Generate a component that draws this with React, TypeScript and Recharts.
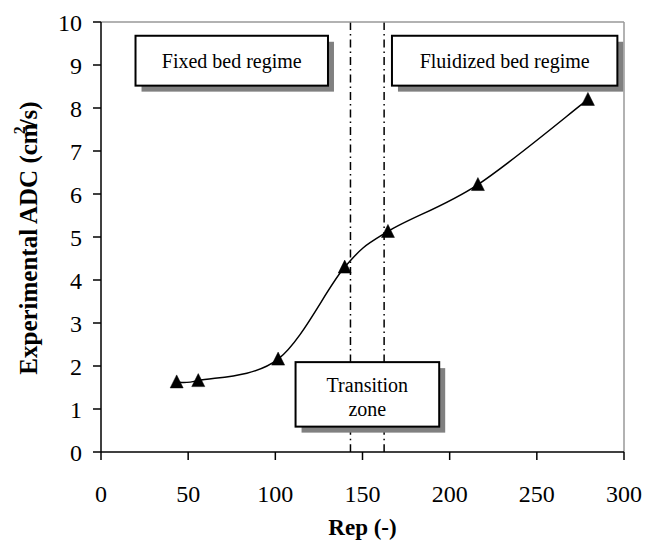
import React from 'react';
import { LineChart, Line, XAxis, YAxis, ReferenceLine, ReferenceArea } from 'recharts';

const rep = [43.4, 55.8, 101.6, 139.8, 164.6, 216.2, 279.3];
const adc = [1.63, 1.66, 2.16, 4.3, 5.13, 6.22, 8.2];
const xTicks = [0, 50, 100, 150, 200, 250, 300];
const yTicks = [0, 1, 2, 3, 4, 5, 6, 7, 8, 9, 10];
const regimeBoundaries = [143.1, 162.4];
const boxLabels = [['Fixed bed regime'], ['Fluidized bed regime'], ['Transition', 'zone']];
const boxX1 = [19.8, 166.9, 111.6];
const boxX2 = [130.2, 296.2, 194.0];
const boxY1 = [8.52, 8.52, 0.59];
const boxY2 = [9.68, 9.68, 2.09];
const TRANSITION = 2;
const Y_MIN = 0;
const Y_MAX = 10;

const data = rep.map((r, i) => ({ rep: r, adc: adc[i] }));

const FONT = '"Liberation Serif", "Times New Roman", Times, serif';

// Excel-like smoothed line (Catmull-Rom style cubic Bezier)
const excelSmooth = (context: any) => {
  let pts: number[][] = [];
  return {
    areaStart() {},
    areaEnd() {},
    lineStart() {
      pts = [];
    },
    point(x: number, y: number) {
      pts.push([+x, +y]);
    },
    lineEnd() {
      if (!pts.length) return;
      context.moveTo(pts[0][0], pts[0][1]);
      for (let i = 0; i < pts.length - 1; i++) {
        const p0 = pts[i - 1] || pts[i];
        const p1 = pts[i];
        const p2 = pts[i + 1];
        const p3 = pts[i + 2] || pts[i + 1];
        context.bezierCurveTo(
          p1[0] + (p2[0] - p0[0]) / 6,
          p1[1] + (p2[1] - p0[1]) / 6,
          p2[0] - (p3[0] - p1[0]) / 6,
          p2[1] - (p3[1] - p1[1]) / 6,
          p2[0],
          p2[1]
        );
      }
    },
  };
};

const Triangle = (props: any) => {
  const { cx, cy, index } = props;
  if (cx == null || cy == null) return null;
  return (
    <path
      key={`tri-${index}`}
      d={`M${cx},${cy - 7} L${cx + 6.5},${cy + 6} L${cx - 6.5},${cy + 6} Z`}
      fill="#000"
      stroke="#000"
      strokeWidth={0.5}
    />
  );
};

// dashed boundary that is interrupted behind the transition-zone box
const dashLine = (props: any) => {
  const { x, y, width, height } = props;
  const lx = x + width / 2;
  const toPx = (v: number) => y + height * (1 - (v - Y_MIN) / (Y_MAX - Y_MIN));
  const gapBottom = toPx(boxY1[TRANSITION]);
  const gapTop = toPx(boxY2[TRANSITION]);
  const common = { stroke: '#000', strokeWidth: 1.5, strokeDasharray: '8 4 1.5 4' };
  return (
    <g>
      <line x1={lx} x2={lx} y1={y} y2={gapTop} {...common} />
      <line x1={lx} x2={lx} y1={gapBottom} y2={y + height} {...common} />
    </g>
  );
};

const makeBox = (lines: string[]) => (props: any) => {
  const { x, y, width, height } = props;
  const cx = x + width / 2;
  const cy = y + height / 2;
  return (
    <g>
      <rect x={x + 6} y={y + 6} width={width} height={height} fill="#808080" />
      <rect x={x} y={y} width={width} height={height} fill="#fff" stroke="#000" strokeWidth={2} />
      {lines.length === 1 ? (
        <text x={cx} y={cy + 7} textAnchor="middle" fontFamily={FONT} fontSize={20} fill="#000">
          {lines[0]}
        </text>
      ) : (
        <text textAnchor="middle" fontFamily={FONT} fontSize={20} fill="#000">
          <tspan x={cx} y={cy - 2}>{lines[0]}</tspan>
          <tspan x={cx} y={cy + 22}>{lines[1]}</tspan>
        </text>
      )}
    </g>
  );
};

const YLabel = () => (
  <text
    x={37}
    y={238}
    transform="rotate(-90, 37, 238)"
    textAnchor="middle"
    fontFamily={FONT}
    fontSize={25}
    fontWeight="bold"
    fill="#000"
  >
    Experimental ADC (cm
    <tspan fontSize={16} dx={-11} dy={-12}>2</tspan>
    <tspan dy={12}>/s)</tspan>
  </text>
);

export default function App() {
  return (
    <div style={{ position: 'absolute', left: 0, top: 0, background: '#fff' }}>
      <LineChart
        width={645}
        height={542}
        data={data}
        margin={{ top: 22, right: 21, left: 0, bottom: 0 }}
      >
        <XAxis
          dataKey="rep"
          type="number"
          domain={[0, 300]}
          ticks={xTicks}
          interval={0}
          height={90}
          tickSize={8}
          tickMargin={25}
          fontSize={24}
          fontFamily={FONT}
          axisLine={{ stroke: '#000', strokeWidth: 1.5 }}
          tickLine={{ stroke: '#000', strokeWidth: 1.5 }}
          tick={{ fill: '#000', fontSize: 24, fontFamily: FONT }}
          label={{ value: 'Rep (-)', position: 'insideBottom', offset: 7, fill: '#000', fontSize: 23, fontWeight: 'bold', fontFamily: FONT }}
        />
        <YAxis
          dataKey="adc"
          type="number"
          domain={[Y_MIN, Y_MAX]}
          ticks={yTicks}
          interval={0}
          width={101}
          tickSize={8}
          tickMargin={11}
          fontSize={24}
          fontFamily={FONT}
          axisLine={{ stroke: '#000', strokeWidth: 1.5 }}
          tickLine={{ stroke: '#000', strokeWidth: 1.5 }}
          tick={{ fill: '#000', fontSize: 24, fontFamily: FONT }}
          label={<YLabel />}
        />
        <ReferenceLine y={Y_MAX} stroke="#999" strokeWidth={1.5} />
        <ReferenceLine x={300} stroke="#999" strokeWidth={1.5} />
        {regimeBoundaries.map((b, i) => (
          <ReferenceArea
            key={`rb-${i}`}
            x1={b - 0.05}
            x2={b + 0.05}
            y1={Y_MIN}
            y2={Y_MAX}
            shape={dashLine}
          />
        ))}
        {boxLabels.map((lines, i) => (
          <ReferenceArea
            key={`box-${i}`}
            x1={boxX1[i]}
            x2={boxX2[i]}
            y1={boxY1[i]}
            y2={boxY2[i]}
            shape={makeBox(lines)}
          />
        ))}
        <Line
          type={excelSmooth as any}
          dataKey="adc"
          stroke="#000"
          strokeWidth={1.5}
          dot={<Triangle />}
          activeDot={false}
          isAnimationActive={false}
        />
      </LineChart>
    </div>
  );
}
